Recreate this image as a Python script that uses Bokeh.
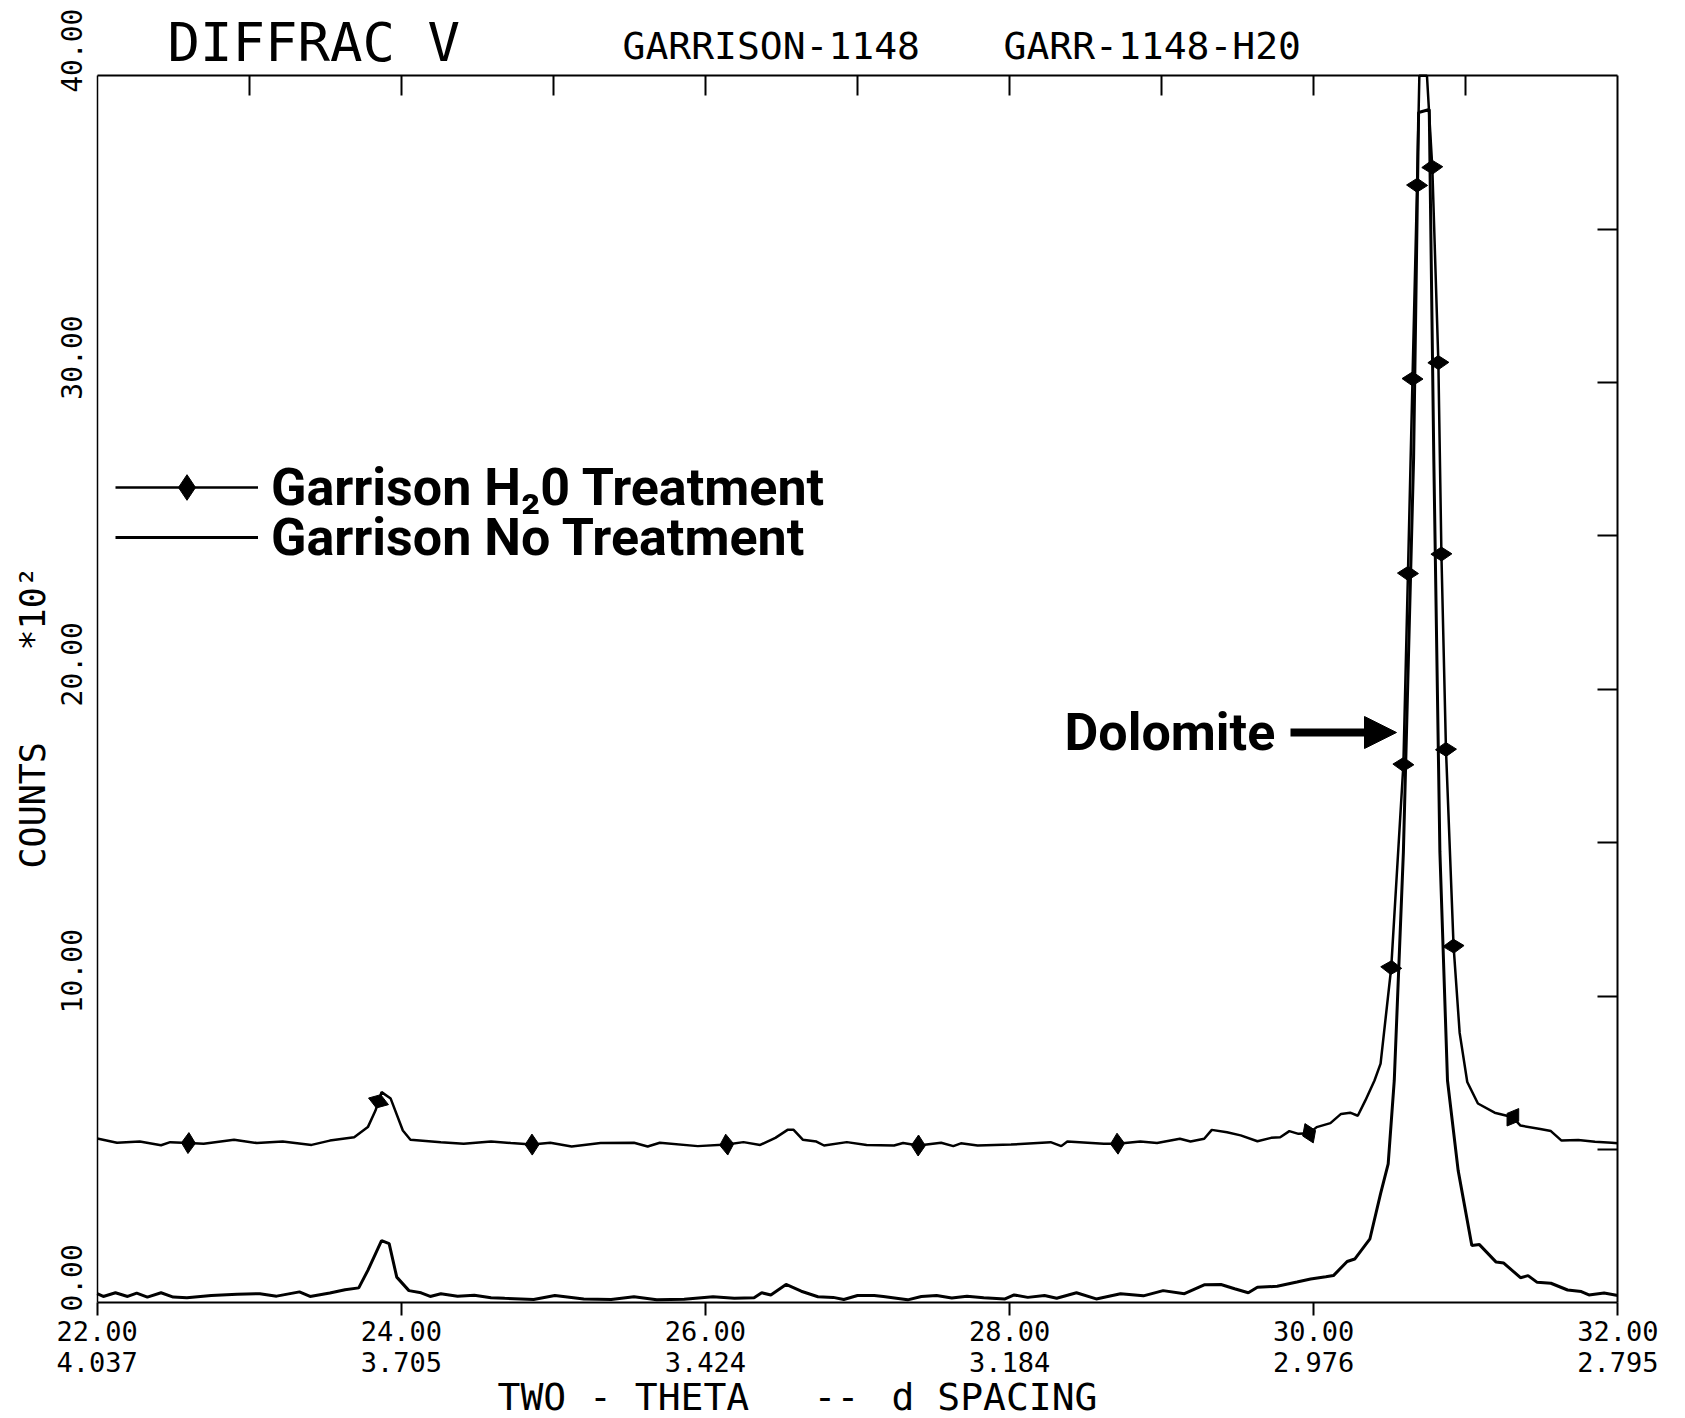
import numpy as np
from bokeh.plotting import figure
from bokeh.models import (Range1d, LinearAxis, FixedTicker, Label, Legend,
                          LegendItem, Arrow, NormalHead)
from bokeh.embed import file_html
from bokeh.resources import INLINE

# ---------------- data ----------------
two_theta_no_treatment = [
    22.00, 22.04, 22.12, 22.20, 22.26, 22.33, 22.42, 22.50, 22.59, 22.75,
    22.92, 23.07, 23.18, 23.33, 23.40, 23.53, 23.63, 23.72, 23.78, 23.83,
    23.87, 23.92, 23.97, 24.05, 24.13, 24.19, 24.26, 24.37, 24.48, 24.59,
    24.68, 24.87, 25.01, 25.20, 25.38, 25.53, 25.68, 25.86, 26.05, 26.19,
    26.32, 26.37, 26.43, 26.53, 26.63, 26.74, 26.84, 26.91, 27.00, 27.11,
    27.17, 27.33, 27.42, 27.52, 27.62, 27.72, 27.83, 27.97, 28.03, 28.12,
    28.23, 28.31, 28.44, 28.57, 28.73, 28.88, 29.01, 29.15, 29.28, 29.39,
    29.48, 29.57, 29.63, 29.76, 29.89, 29.98, 30.08, 30.13, 30.22, 30.27,
    30.37, 30.44, 30.49, 30.53, 30.59, 30.657, 30.69, 30.76, 30.79, 30.83,
    30.88, 30.95, 31.04, 31.09, 31.20, 31.25, 31.36, 31.41, 31.47, 31.56,
    31.67, 31.76, 31.81, 31.91, 32.00]
counts_no_treatment = [
    0.30, 0.21, 0.33, 0.21, 0.32, 0.19, 0.33, 0.19, 0.17, 0.24,
    0.28, 0.30, 0.22, 0.36, 0.21, 0.32, 0.43, 0.49, 1.06, 1.60,
    2.03, 1.93, 0.84, 0.40, 0.33, 0.21, 0.30, 0.22, 0.25, 0.17,
    0.15, 0.11, 0.24, 0.13, 0.11, 0.20, 0.10, 0.12, 0.20, 0.15,
    0.17, 0.33, 0.26, 0.60, 0.38, 0.20, 0.18, 0.11, 0.24, 0.24,
    0.21, 0.10, 0.21, 0.24, 0.16, 0.22, 0.17, 0.13, 0.26, 0.18,
    0.24, 0.15, 0.33, 0.13, 0.30, 0.23, 0.40, 0.30, 0.59, 0.60,
    0.46, 0.33, 0.51, 0.54, 0.68, 0.78, 0.85, 0.89, 1.35, 1.43,
    2.09, 3.56, 4.53, 7.25, 14.7, 27.5, 38.8, 38.9, 27.5, 14.7,
    7.25, 4.32, 1.87, 1.90, 1.33, 1.30, 0.82, 0.89, 0.67, 0.64,
    0.42, 0.37, 0.26, 0.32, 0.24]

# H2O trace runs off the top of the scale (40) at the dolomite peak
two_theta_h2o = [
    22.00, 22.13, 22.28, 22.42, 22.48, 22.60, 22.70, 22.90, 23.05, 23.22,
    23.41, 23.53, 23.69, 23.78, 23.83, 23.87, 23.93, 24.01, 24.06, 24.26,
    24.41, 24.59, 24.72, 24.86, 24.98, 25.12, 25.31, 25.53, 25.62, 25.70,
    25.95, 26.14, 26.25, 26.36, 26.46, 26.54, 26.58, 26.64, 26.73, 26.78,
    26.93, 27.06, 27.24, 27.30, 27.40, 27.55, 27.63, 27.68, 27.79, 28.01,
    28.27, 28.34, 28.38, 28.62, 28.71, 28.86, 28.97, 29.12, 29.19, 29.28,
    29.33, 29.43, 29.52, 29.63, 29.72, 29.78, 29.84, 29.90, 29.97, 30.02,
    30.11, 30.18, 30.24, 30.29, 30.34, 30.40, 30.44, 30.51, 30.59, 30.62,
    30.65, 30.68, 30.695, 30.745, 30.78, 30.82, 30.84, 30.87, 30.92, 30.96,
    31.01, 31.08, 31.19, 31.31, 31.36, 31.49, 31.56, 31.63, 31.74, 31.85,
    31.96, 32.00]
counts_h2o = [
    5.36, 5.22, 5.26, 5.14, 5.24, 5.21, 5.19, 5.32, 5.21, 5.26,
    5.15, 5.29, 5.40, 5.73, 6.27, 6.87, 6.66, 5.62, 5.32, 5.24,
    5.19, 5.26, 5.21, 5.16, 5.22, 5.10, 5.21, 5.22, 5.10, 5.22,
    5.11, 5.16, 5.24, 5.15, 5.38, 5.64, 5.64, 5.32, 5.26, 5.13,
    5.24, 5.15, 5.13, 5.21, 5.13, 5.22, 5.11, 5.20, 5.13, 5.16,
    5.24, 5.11, 5.26, 5.19, 5.19, 5.26, 5.21, 5.35, 5.26, 5.35,
    5.64, 5.56, 5.46, 5.27, 5.38, 5.40, 5.60, 5.51, 5.53, 5.73,
    5.86, 6.16, 6.20, 6.10, 6.60, 7.25, 7.80, 10.93, 17.55, 23.78,
    30.12, 36.43, 40.0, 40.0, 37.02, 30.65, 24.41, 18.04, 11.63, 8.8,
    7.2, 6.5, 6.2, 6.05, 5.78, 5.67, 5.60, 5.29, 5.31, 5.25,
    5.22, 5.20]

h2o_marker_two_theta = [22.60, 23.85, 24.86, 26.14, 27.40, 28.71, 29.97,
                        30.51, 30.59, 30.62, 30.65, 30.68, 30.78, 30.82,
                        30.84, 30.87, 30.92, 31.31]
h2o_marker_counts = [5.21, 6.57, 5.16, 5.16, 5.13, 5.19, 5.53,
                     10.93, 17.55, 23.78, 30.12, 36.43, 37.02, 30.65,
                     24.41, 18.04, 11.63, 6.05]

x_label_ticks = [22, 24, 26, 28, 30, 32]
d_spacing_labels = ["4.037", "3.705", "3.424", "3.184", "2.976", "2.795"]
top_ticks = [23, 24, 25, 26, 27, 28, 29, 30, 31]
y_label_ticks = [0, 10, 20, 30, 40]
right_ticks = [5, 10, 15, 20, 25, 30, 35]

# ---------------- geometry (pixels of the page) ----------------
FIG_W, FIG_H = 1677, 1418
BOX_L, BOX_R, BOX_T, BOX_B = 96.7, 1617.3, 75.2, 1302.4
X0, X1, Y0, Y1 = 22, 32, 0, 40
PX_X = (BOX_R - BOX_L) / (X1 - X0)
PX_Y = (BOX_B - BOX_T) / (Y1 - Y0)


def data_x(px):
    return X0 + (px - BOX_L) / PX_X


def data_y(py):
    return Y1 - (py - BOX_T) / PX_Y


MONO = "DejaVu Sans Mono"
BOLD = "Roboto"

p = figure(width=FIG_W, height=FIG_H,
           x_range=Range1d(data_x(0), data_x(FIG_W)),
           y_range=Range1d(data_y(FIG_H), data_y(0)),
           output_backend="svg", toolbar_location=None, title=None,
           min_border=0)
p.min_border_left = 0
p.min_border_right = 0
p.min_border_top = 0
p.min_border_bottom = 0
p.background_fill_color = "white"
p.border_fill_color = "white"
p.outline_line_color = None
p.xgrid.visible = False
p.ygrid.visible = False

# bottom axis (two-theta and d spacing)
xb = p.xaxis[0]
xb.fixed_location = Y0
xb.bounds = (X0, X1)
xb.ticker = FixedTicker(ticks=x_label_ticks)
xb.major_label_overrides = {t: f"{t:.2f}\n{d}" for t, d in zip(x_label_ticks, d_spacing_labels)}
xb.major_label_text_font = MONO
xb.major_label_text_font_size = "27px"
xb.major_label_text_color = "black"
xb.major_label_text_line_height = 1.0
xb.major_label_standoff = 0
xb.major_tick_in = 0
xb.major_tick_out = 13
xb.major_tick_line_width = 2
xb.minor_tick_line_color = None
xb.axis_line_width = 2
xb.axis_line_color = "black"

# left axis (its labels are drawn rotated further below)
yl = p.yaxis[0]
yl.fixed_location = X0
yl.bounds = (Y0, Y1)
yl.ticker = FixedTicker(ticks=y_label_ticks)
yl.major_label_overrides = {t: "" for t in y_label_ticks}
yl.major_tick_in = 0
yl.major_tick_out = 0
yl.minor_tick_line_color = None
yl.axis_line_width = 1.5
yl.axis_line_color = "black"

# top axis
xt = LinearAxis(ticker=FixedTicker(ticks=top_ticks), fixed_location=Y1, bounds=(X0, X1))
xt.major_label_overrides = {t: "" for t in top_ticks}
xt.major_tick_in = 20
xt.major_tick_out = 0
xt.major_tick_line_width = 2
xt.minor_tick_line_color = None
xt.axis_line_width = 2
p.add_layout(xt, "above")

# right axis
yr = LinearAxis(ticker=FixedTicker(ticks=right_ticks), fixed_location=X1, bounds=(Y0, Y1))
yr.major_label_overrides = {t: "" for t in right_ticks}
yr.major_tick_in = 20
yr.major_tick_out = 0
yr.major_tick_line_width = 2
yr.minor_tick_line_color = None
yr.axis_line_width = 2
p.add_layout(yr, "right")

# ---------------- series ----------------
r_h2o = p.line(two_theta_h2o, counts_h2o, line_color="black", line_width=2.5)
r_nt = p.line(two_theta_no_treatment, counts_no_treatment, line_color="black", line_width=3)

# marker orientation follows the local direction of the H2O trace
xs = np.array(two_theta_h2o)
ys = np.array(counts_h2o)
angles = []
for xm in h2o_marker_two_theta:
    d = 0.012
    ya = np.interp(xm - d, xs, ys)
    yb = np.interp(xm + d, xs, ys)
    angles.append(float(np.arctan2((yb - ya) * PX_Y, 2 * d * PX_X)))

r_pts = p.scatter(h2o_marker_two_theta, h2o_marker_counts, marker="diamond",
                  size=21, angle=angles, fill_color="black", line_color="black")

# ---------------- legend (one row each, so rows sit 50px apart) ----------------
ROW_H = 64


def add_legend_row(label, renderers, center_py):
    lg = Legend(items=[LegendItem(label=label, renderers=renderers)],
                location=(115, int(round(FIG_H - center_py - ROW_H / 2))))
    lg.label_text_font = BOLD
    lg.label_text_font_style = "bold"
    lg.label_text_font_size = "52px"
    lg.label_text_color = "black"
    lg.glyph_width = 143
    lg.glyph_height = ROW_H
    lg.label_height = ROW_H
    lg.padding = 0
    lg.margin = 0
    lg.label_standoff = 13
    lg.border_line_color = None
    lg.background_fill_alpha = 0
    p.add_layout(lg)


add_legend_row("Garrison H\u20820 Treatment", [r_h2o, r_pts], 487)
add_legend_row("Garrison No Treatment", [r_nt], 537)

# ---------------- texts (anchored at the middle of their capitals) ----------------
for t in y_label_ticks:
    p.add_layout(Label(x=X0, y=t, text=f"{t:.2f}", angle=np.pi / 2,
                       x_offset=-26, y_offset=25, text_align="center",
                       text_baseline="middle", text_font=MONO,
                       text_font_size="28px", text_color="black"))

p.add_layout(Label(x=data_x(32), y=data_y(868), text="COUNTS", angle=np.pi / 2,
                   text_align="left", text_baseline="middle", text_font=MONO,
                   text_font_size="35px", text_color="black"))
p.add_layout(Label(x=data_x(32), y=data_y(650), text="*10\u00b2", angle=np.pi / 2,
                   text_align="left", text_baseline="middle", text_font=MONO,
                   text_font_size="35px", text_color="black"))

for txt, px in [("TWO - THETA", 497), ("--", 813), ("d SPACING", 891)]:
    p.add_layout(Label(x=data_x(px), y=data_y(1396), text=txt,
                       text_align="left", text_baseline="middle", text_font=MONO,
                       text_font_size="38px", text_color="black"))

p.add_layout(Label(x=data_x(167), y=data_y(42), text="DIFFRAC V",
                   text_align="left", text_baseline="middle", text_font=MONO,
                   text_font_size="54px", text_color="black"))
p.add_layout(Label(x=data_x(622), y=data_y(45), text="GARRISON-1148",
                   text_align="left", text_baseline="middle", text_font=MONO,
                   text_font_size="38px", text_color="black"))
p.add_layout(Label(x=data_x(1003), y=data_y(45), text="GARR-1148-H20",
                   text_align="left", text_baseline="middle", text_font=MONO,
                   text_font_size="38px", text_color="black"))

p.add_layout(Label(x=data_x(1064), y=data_y(732), text="Dolomite",
                   text_align="left", text_baseline="middle", text_font=BOLD,
                   text_font_style="bold", text_font_size="52px", text_color="black"))
p.add_layout(Arrow(end=NormalHead(size=32, fill_color="black", line_color="black"),
                   x_start=data_x(1290), y_start=data_y(732),
                   x_end=data_x(1396), y_end=data_y(732),
                   line_width=8, line_color="black"))

open("out.html", "w").write(file_html(p, INLINE))
